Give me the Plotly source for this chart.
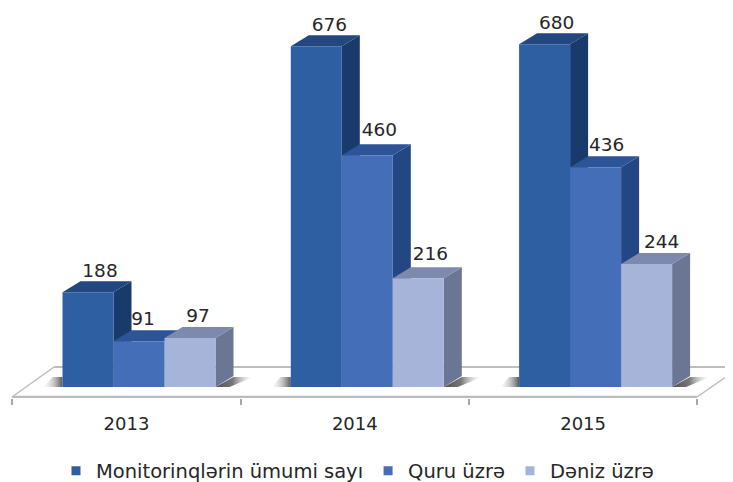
import plotly.graph_objects as go

# ---- data ----
years = ["2013", "2014", "2015"]
series_names = ["Monitorinqlərin ümumi sayı", "Quru üzrə", "Dəniz üzrə"]
total = [188, 676, 680]
land = [91, 460, 436]
sea = [97, 216, 244]

# ---- style ----
front = ["#2f5fa3", "#446fb8", "#a6b4da"]
side = ["#193b6b", "#234783", "#6b7694"]
top = ["#24477f", "#2c5496", "#7d8aae"]
label_nudge = [[12, 4, 8], [13, 12, 12], [12, 11, 15]]
label_lift = [[0, 1, 0], [0, 4, 3], [0, 1, 0]]
FONT = "DejaVu Sans"
TXT = "#262626"

PAGE = 8                # the page's own margin around the figure
W, H = 733 - PAGE, 482 - PAGE
PX_X = 228.3            # pixels per group
PX_Y = 0.504            # pixels per value unit
ZERO_PX = 387 - PAGE
BOTTOM_PX = 398 - PAGE
CENTER0 = 126.5 - PAGE
bw = 51 / PX_X
shift = 12.5 / PX_X
dx = 18 / PX_X
dy = 11 / PX_Y
x_range = [-CENTER0 / PX_X, (W - CENTER0) / PX_X]
y_range = [(ZERO_PX - BOTTOM_PX) / PX_Y, ZERO_PX / PX_Y]

values = [total, land, sea]
fig = go.Figure()


def poly(xs, ys, fill, **kw):
    fig.add_trace(go.Scatter(x=xs, y=ys, mode="lines", fill="toself", fillcolor=fill,
                             line=dict(width=0), hoverinfo="skip", showlegend=False, **kw))


def ux(p):
    return (p - PAGE - CENTER0) / PX_X


def uy(p):
    return (ZERO_PX - (p - PAGE)) / PX_Y


# floor
fig.add_trace(go.Scatter(x=[ux(54), ux(12)], y=[uy(367), uy(397)], mode="lines",
                         line=dict(color="#bdbdbd", width=1.5), hoverinfo="skip", showlegend=False))
fig.add_trace(go.Scatter(x=[ux(54), ux(745)], y=[uy(367), uy(367)], mode="lines",
                         line=dict(color="#a8a8a8", width=1.5), hoverinfo="skip", showlegend=False))
fig.add_trace(go.Scatter(x=[ux(697), ux(739)], y=[uy(397), uy(368)], mode="lines",
                         line=dict(color="#bdbdbd", width=1.5), hoverinfo="skip", showlegend=False))
fig.add_trace(go.Scatter(x=[ux(12), ux(697)], y=[uy(397), uy(397)], mode="lines",
                         line=dict(color="#bcbcbc", width=2.5), hoverinfo="skip", showlegend=False))

# floor shadows
for g in range(3):
    left = g + shift - 1.5 * bw
    right = g + shift + 1.5 * bw
    fig.add_trace(go.Scatter(
        x=[right, right + dx, right + dx + 20 / PX_X, right + 14 / PX_X, right],
        y=[0, 20, 20, 0, 0], mode="lines", fill="toself", line=dict(width=0),
        fillgradient=dict(type="horizontal",
                          colorscale=[[0, "rgba(50,50,50,0.85)"], [0.45, "rgba(60,60,60,0.7)"],
                                      [0.95, "rgba(160,160,160,0)"], [1, "rgba(255,255,255,0)"]]),
        hoverinfo="skip", showlegend=False))
    fig.add_trace(go.Scatter(
        x=[left, left, left - 10 / PX_X, left - 19 / PX_X, left],
        y=[0, 20, 20, 0, 0], mode="lines", fill="toself", line=dict(width=0),
        fillgradient=dict(type="horizontal",
                          colorscale=[[0, "rgba(160,160,160,0)"], [0.5, "rgba(110,110,110,0.35)"],
                                      [1, "rgba(50,50,50,0.8)"]]),
        hoverinfo="skip", showlegend=False))

# 3D side and top faces, painted left to right (the fronts sit on the overlaying axes)
for g in range(3):
    for s, vals in enumerate(values):
        v = vals[g]
        x0 = g + shift + (s - 1.5) * bw
        x1 = x0 + bw
        poly([x1, x1 + dx, x1 + dx, x1], [0, dy, v + dy, v], side[s])
        poly([x0, x1, x1 + dx, x0 + dx], [v, v, v + dy, v + dy], top[s])

# front faces
for s, vals in enumerate(values):
    fig.add_trace(go.Bar(x=[g + shift + (s - 1) * bw for g in range(3)], y=vals, width=bw,
                         marker=dict(color=front[s], line=dict(width=0)),
                         xaxis="x2", yaxis="y2", name=series_names[s], legendgroup=series_names[s],
                         showlegend=False, hovertemplate="%{y}<extra>" + series_names[s] + "</extra>"))
    fig.add_trace(go.Scatter(x=[None], y=[None], mode="markers", name=series_names[s],
                             legendgroup=series_names[s],
                             marker=dict(symbol="square", size=9, color=front[s]),
                             xaxis="x2", yaxis="y2"))

# value labels
for s, vals in enumerate(values):
    fig.add_trace(go.Scatter(
        x=[g + shift + (s - 1) * bw + label_nudge[g][s] / PX_X for g in range(3)],
        y=[v + dy + label_lift[g][s] / PX_Y for g, v in enumerate(vals)],
        mode="text", text=[str(v) for v in vals],
        textposition="top center", textfont=dict(family=FONT, size=18.5, color=TXT),
        xaxis="x2", yaxis="y2", hoverinfo="skip", showlegend=False, cliponaxis=False))

fig.update_layout(
    width=W, height=H, autosize=False, margin=dict(l=0, r=0, t=0, b=0, autoexpand=False),
    paper_bgcolor="white", plot_bgcolor="white", barmode="overlay", showlegend=True,
    font=dict(family=FONT, size=18, color=TXT),
    xaxis=dict(range=x_range, tickvals=[0, 1, 2], ticktext=years, showgrid=False, zeroline=False,
               showline=False, ticks="outside", ticklen=9, tickcolor="rgba(0,0,0,0)",
               tickfont=dict(family=FONT, size=18, color=TXT),
               minor=dict(tickvals=[-0.5, 0.5, 1.5, 2.5], ticks="outside", ticklen=6,
                          tickcolor="#a8a8a8", tickwidth=1.5)),
    yaxis=dict(range=y_range, visible=False, domain=[(H - BOTTOM_PX) / H, 1]),
    xaxis2=dict(range=x_range, overlaying="x", visible=False),
    yaxis2=dict(range=y_range, overlaying="y", visible=False),
    legend=dict(orientation="h", x=0.5 - 13 / W, xanchor="center", y=(H - (471 - PAGE)) / H,
                yanchor="middle", font=dict(family=FONT, size=19.5, color=TXT), itemwidth=30,
                bgcolor="rgba(0,0,0,0)"),
)

fig.write_html("out.html")
